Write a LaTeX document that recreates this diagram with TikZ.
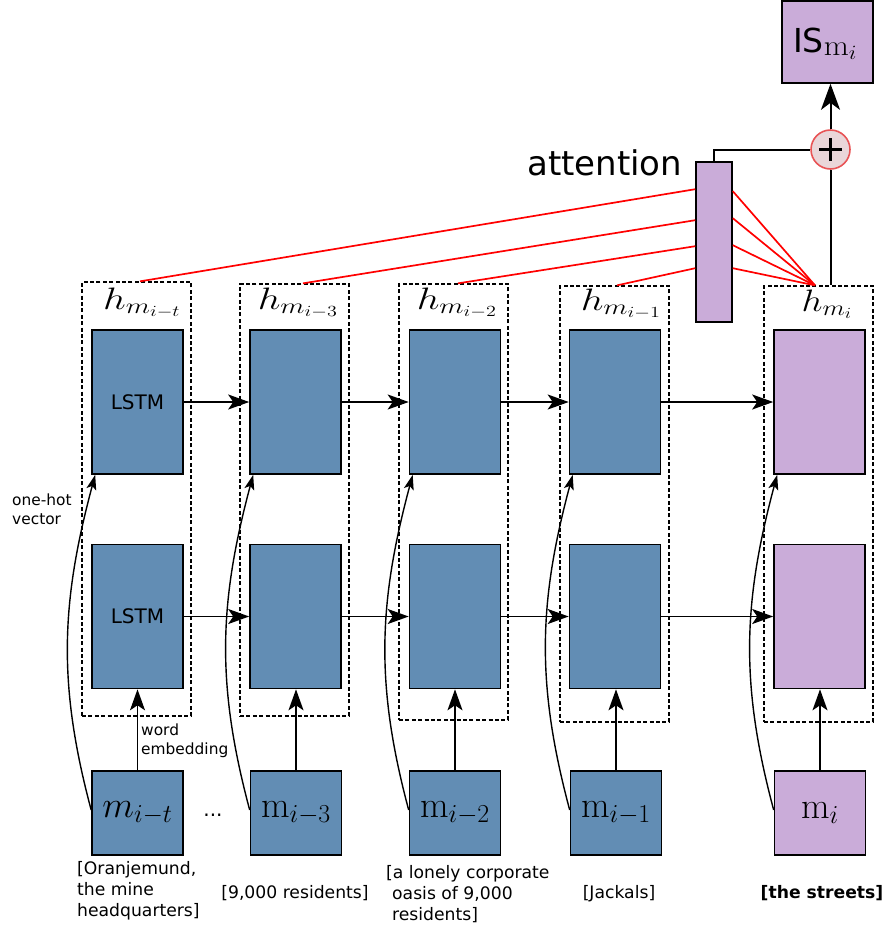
\RequirePackage{fix-cm}
\documentclass[tikz,border=0pt]{standalone}
\usepackage{graphicx}
\usepackage[no-math]{fontspec}
\newfontfamily\dejavu{DejaVu Sans}
\usetikzlibrary{arrows.meta}

\definecolor{cellblue}{RGB}{98,141,180}
\definecolor{cellpurple}{RGB}{202,172,217}
\definecolor{plusfill}{RGB}{234,214,217}
\definecolor{plusred}{RGB}{232,84,86}

% text helpers for the small notes and the mention captions
\newcommand{\notetext}[1]{{\dejavu\fontsize{15.4}{19}\selectfont #1}}
\newcommand{\captext}[1]{{\dejavu\fontsize{17.2}{21}\selectfont #1}}

\tikzset{
  cell/.style={draw=black, line width=1.6pt, fill=cellblue, minimum width=91pt,
               minimum height=144pt, inner sep=0pt},
  focuscell/.style={cell, fill=cellpurple},
  inbox/.style={draw=black, line width=1.6pt, fill=cellblue, minimum width=91pt,
                minimum height=84pt, inner sep=0pt},
  focusinbox/.style={inbox, fill=cellpurple},
  frame/.style={draw=black, line width=1.3pt, dash pattern=on 4pt off 2.4pt,
                minimum width=109pt, inner sep=0pt},
  flow/.style={line width=1.6pt, -{Stealth[length=21pt,width=15pt,inset=5pt]}},
  skiparrow/.style={line width=1.4pt, -{Stealth[length=15pt,width=10pt,inset=3.5pt]}},
  wire/.style={line width=2pt},
  attn/.style={line width=1.7pt, red},
  hlabel/.style={anchor=base, inner sep=0pt, font=\fontsize{31}{36}\selectfont},
  mlabel/.style={inner sep=0pt, font=\fontsize{37}{40}\selectfont},
  note/.style={inner sep=0pt, anchor=base west},
  caption/.style={inner sep=0pt},
}

\begin{document}
\begin{tikzpicture}[x=1pt, y=-1pt]
\useasboundingbox (0,0) rectangle (887,930);

% dashed frames round each time step
\node[frame, minimum height=434pt] (d1) at (136.5,499) {};
\node[frame, minimum height=432pt] (d2) at (294.5,500) {};
\node[frame, minimum height=436pt] (d3) at (453.5,502) {};
\node[frame, minimum height=436pt] (d4) at (614.5,504) {};
\node[frame, minimum height=436pt] (d5) at (818.5,504) {};

% upper LSTM layer
\node[cell] (t1) at (137.5,402) {\dejavu\fontsize{20}{24}\selectfont LSTM};
\node[cell] (t2) at (295.5,402) {};
\node[cell] (t3) at (455,402) {};
\node[cell] (t4) at (615,402) {};
\node[focuscell] (t5) at (819.5,402) {};

% lower LSTM layer
\node[cell] (b1) at (137.5,616.5) {\dejavu\fontsize{20}{24}\selectfont LSTM};
\node[cell] (b2) at (295.5,616.5) {};
\node[cell] (b3) at (455,616.5) {};
\node[cell] (b4) at (615,616.5) {};
\node[focuscell] (b5) at (819.5,616.5) {};

% inputs
\node[inbox, mlabel] (m1) at (137.5,813) {$m_{i-t}$};
\node[inbox, mlabel] (m2) at (296,813) {$\mathrm{m}_{i-3}$};
\node[inbox, mlabel] (m3) at (455,813) {$\mathrm{m}_{i-2}$};
\node[inbox, mlabel] (m4) at (616,813) {$\mathrm{m}_{i-1}$};
\node[focusinbox, mlabel] (m5) at (820,813) {$\mathrm{m}_{i}$};
\node[font=\dejavu\fontsize{20}{24}\selectfont, inner sep=0pt] (dots) at (213,815) {...};

% hidden state labels
\node[hlabel] (h1) at (142,309) {\scalebox{1.3}[1]{$h_{m_{i-t}}$}};
\node[hlabel] (h2) at (298,309) {\scalebox{1.3}[1]{$h_{m_{i-3}}$}};
\node[hlabel] (h3) at (457,309) {\scalebox{1.3}[1]{$h_{m_{i-2}}$}};
\node[hlabel] (h4) at (621,310) {\scalebox{1.3}[1]{$h_{m_{i-1}}$}};
\node[hlabel] (h5) at (827,311) {\scalebox{1.2}[1]{$h_{m_{i}}$}};

% attention and output
\node[draw=black, line width=1.6pt, fill=cellpurple, minimum width=36pt,
      minimum height=160pt, inner sep=0pt] (att) at (714,242) {};
\node[anchor=base west, inner sep=0pt, font=\dejavu\fontsize{34}{40}\selectfont]
      (attlabel) at (527,175) {attention};
\node[circle, draw=plusred, fill=plusfill, line width=1.6pt, minimum size=39pt,
      inner sep=0pt] (plus) at (830.5,149.5) {};
\draw[line width=3pt] ([xshift=-11.5pt]plus.center) -- ([xshift=11.5pt]plus.center);
\draw[line width=3pt] ([yshift=-11.5pt]plus.center) -- ([yshift=11.5pt]plus.center);
\node[draw=black, line width=1.6pt, fill=cellpurple, minimum width=91pt,
      minimum height=82pt, inner sep=0pt] (out) at (827.5,42) {};
\node[anchor=base west, inner sep=0pt, font=\dejavu\fontsize{33}{40}\selectfont]
      (outlabel) at (793,52)
      {IS\raisebox{-3pt}{\scalebox{1.12}[1]{\fontsize{29}{32}\selectfont$\mathrm{m}_{i}$}}};

% side notes, one node per line
\node[note] (onehot) at (12,505) {\notetext{one-hot}};
\node[note] (onehotb) at (12,524) {\notetext{vector}};
\node[note] (wordemb) at (141,735) {\notetext{word}};
\node[note] (wordembb) at (141,754) {\notetext{embedding}};

% mention texts
\node[caption, anchor=base west] (c1) at (77,874) {\captext{[Oranjemund,}};
\node[caption, anchor=base west] (c1b) at (77,895) {\captext{the mine}};
\node[caption, anchor=base west] (c1c) at (77,916) {\captext{headquarters]}};
\node[caption, anchor=base] (c2) at (295,898) {\captext{[9,000 residents]}};
\node[caption, anchor=base west] (c3) at (386,878) {\captext{[a lonely corporate}};
\node[caption, anchor=base west] (c3b) at (392,899) {\captext{oasis of 9,000}};
\node[caption, anchor=base west] (c3c) at (392,920) {\captext{residents]}};
\node[caption, anchor=base] (c4) at (619,898) {\captext{[Jackals]}};
\node[caption, anchor=base] (c5) at (822,898) {\captext{\bfseries [the streets]}};

% recurrent connections
\foreach \a/\b in {1/2,2/3,3/4,4/5}{
  \draw[flow] (t\a.east) -- (t\b.west);
  \draw[flow] (b\a.east) -- (b\b.west);
}

% word embeddings into the lower layer
\foreach \k in {1,...,5}{
  \draw[flow] (m\k.north) -- (m\k.north |- b\k.south);
}

% one-hot vectors into the upper layer
\foreach \k in {1,...,5}{
  \draw[skiparrow] ([yshift=3pt]m\k.west) to[out=105,in=-105] ([xshift=4pt]t\k.south west);
}

% attention weights
\coordinate (hub) at ([xshift=-3.5pt]d5.north);
\draw[attn] ([xshift=3.5pt]d1.north) -- ([yshift=-28pt]att.north west);
\draw[attn] ([xshift=8.5pt]d2.north) -- ([yshift=-59pt]att.north west);
\draw[attn] ([xshift=4.5pt]d3.north) -- ([yshift=-85pt]att.north west);
\draw[attn] ([xshift=2.5pt]d4.north) -- ([yshift=-107pt]att.north west);
\draw[attn] ([yshift=-30pt]att.north east) -- (hub);
\draw[attn] ([yshift=-57pt]att.north east) -- (hub);
\draw[attn] ([yshift=-84pt]att.north east) -- (hub);
\draw[attn] ([yshift=-107pt]att.north east) -- (hub);

% combination and output
\draw[wire] (att.north) |- (plus.west);
\draw[wire] (plus.south) -- (plus.south |- d5.north);
\draw[line width=2pt, -{Stealth[length=26pt,width=19pt,inset=7pt]}] (plus.north) -- (plus.north |- out.south);
\end{tikzpicture}
\end{document}
